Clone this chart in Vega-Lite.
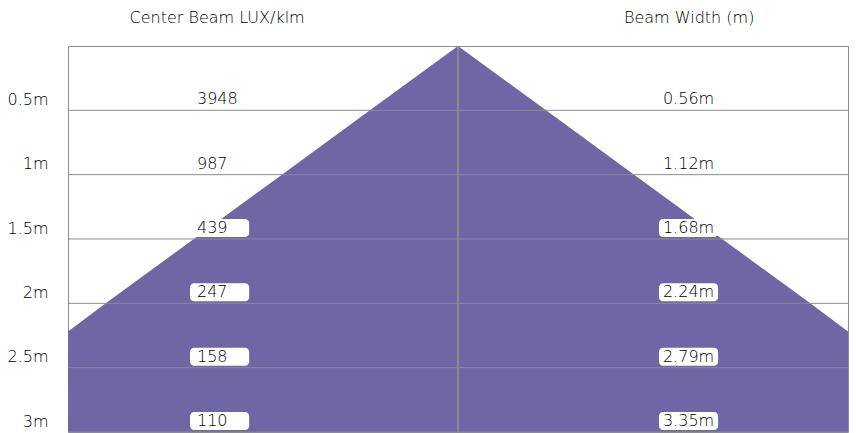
{
  "$schema": "https://vega.github.io/schema/vega-lite/v6.json",
  "width": 780,
  "height": 386,
  "autosize": {"type": "none"},
  "padding": {"left": 68, "top": 46, "right": 8, "bottom": 1},
  "background": "white",
  "config": {
    "view": {"stroke": "#8c8c8c", "strokeWidth": 1},
    "font": "DejaVu Sans",
    "axisX": {"disable": true}
  },
  "datasets": {
    "rows": [
      {"d": 0.5, "lux": "3948", "width": "0.56m"},
      {"d": 1, "lux": "987", "width": "1.12m"},
      {"d": 1.5, "lux": "439", "width": "1.68m"},
      {"d": 2, "lux": "247", "width": "2.24m"},
      {"d": 2.5, "lux": "158", "width": "2.79m"},
      {"d": 3, "lux": "110", "width": "3.35m"}
    ],
    "beam": [
      {"d": 0, "left": 0, "right": 0},
      {"d": 0.5, "left": -0.28, "right": 0.28},
      {"d": 1, "left": -0.56, "right": 0.56},
      {"d": 1.5, "left": -0.84, "right": 0.84},
      {"d": 2, "left": -1.12, "right": 1.12},
      {"d": 2.5, "left": -1.395, "right": 1.395},
      {"d": 3, "left": -1.675, "right": 1.675}
    ],
    "headers": [
      {"label": "Center Beam LUX/klm", "col": "lux"},
      {"label": "Beam Width (m)", "col": "width"}
    ]
  },
  "layer": [
    {
      "data": {"name": "beam"},
      "mark": {"type": "area", "orient": "horizontal", "color": "#6E66A5", "clip": true},
      "encoding": {
        "y": {
          "field": "d",
          "type": "quantitative",
          "scale": {"domain": [0, 3], "reverse": true, "nice": false, "zero": false},
          "axis": {
            "values": [0.5, 1, 1.5, 2, 2.5, 3],
            "labelExpr": "datum.value + 'm'",
            "grid": false,
            "domain": false,
            "ticks": false,
            "labelPadding": 20,
            "labelBaseline": "alphabetic",
            "labelOffset": -6,
            "labelFontSize": 16,
            "labelFontWeight": 300,
            "labelColor": "#000000",
            "labelFont": "DejaVu Sans",
            "title": null
          }
        },
        "x": {"field": "left", "type": "quantitative", "scale": {"domain": [-1.24, 1.24], "nice": false, "zero": false}},
        "x2": {"field": "right"}
      }
    },
    {
      "data": {"name": "rows"},
      "mark": {"type": "rule", "color": "#8c8c8c", "strokeWidth": 1},
      "encoding": {
        "y": {"field": "d", "type": "quantitative"}
      }
    },
    {
      "data": {"name": "rows"},
      "mark": {"type": "rule", "color": "#8c8c8c", "strokeWidth": 1},
      "encoding": {
        "x": {"datum": 0, "type": "quantitative"},
        "y": {"datum": 0, "type": "quantitative"},
        "y2": {"datum": 3}
      }
    },
    {
      "data": {"name": "rows"},
      "mark": {"type": "rect", "fill": "white", "cornerRadius": 4, "yOffset": -20, "y2Offset": -2},
      "encoding": {
        "x": {"datum": -0.852, "type": "quantitative"},
        "x2": {"datum": -0.664},
        "y": {"field": "d", "type": "quantitative"},
        "y2": {"field": "d"}
      }
    },
    {
      "data": {"name": "rows"},
      "mark": {"type": "rect", "fill": "white", "cornerRadius": 4, "yOffset": -20, "y2Offset": -2},
      "encoding": {
        "x": {"datum": 0.639, "type": "quantitative"},
        "x2": {"datum": 0.827},
        "y": {"field": "d", "type": "quantitative"},
        "y2": {"field": "d"}
      }
    },
    {
      "data": {"name": "rows"},
      "mark": {"type": "text", "align": "left", "baseline": "alphabetic", "dy": -6, "fontSize": 16, "fontWeight": 300, "color": "#000000"},
      "encoding": {
        "x": {"datum": -0.83, "type": "quantitative"},
        "y": {"field": "d", "type": "quantitative"},
        "text": {"field": "lux"}
      }
    },
    {
      "data": {"name": "rows"},
      "mark": {"type": "text", "align": "center", "baseline": "alphabetic", "dy": -6, "fontSize": 16, "fontWeight": 300, "color": "#000000"},
      "encoding": {
        "x": {"datum": 0.733, "type": "quantitative"},
        "y": {"field": "d", "type": "quantitative"},
        "text": {"field": "width"}
      }
    },
    {
      "data": {"name": "headers"},
      "transform": [{"filter": "datum.col === 'lux'"}],
      "mark": {"type": "text", "align": "center", "baseline": "middle", "yOffset": -28, "fontSize": 16, "fontWeight": 300, "color": "#000000"},
      "encoding": {
        "x": {"datum": -0.766, "type": "quantitative"},
        "y": {"datum": 0, "type": "quantitative"},
        "text": {"field": "label"}
      }
    },
    {
      "data": {"name": "headers"},
      "transform": [{"filter": "datum.col === 'width'"}],
      "mark": {"type": "text", "align": "center", "baseline": "middle", "yOffset": -28, "fontSize": 16, "fontWeight": 300, "color": "#000000"},
      "encoding": {
        "x": {"datum": 0.735, "type": "quantitative"},
        "y": {"datum": 0, "type": "quantitative"},
        "text": {"field": "label"}
      }
    }
  ]
}
